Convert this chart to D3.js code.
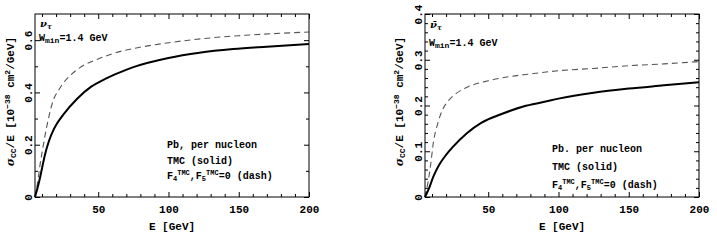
<!DOCTYPE html>
<html>
<head>
<meta charset="utf-8">
<script src="https://cdn.jsdelivr.net/npm/d3@7"></script>
<style>
  body { margin: 0; background: #fff; }
  svg { display: block; }
  text { font-family: "Liberation Mono", "DejaVu Sans Mono", monospace; fill: #000; font-weight: bold; }
</style>
</head>
<body>
<svg id="chart" width="717" height="240"></svg>
<script>
// ---------------- data ----------------
const xTicks = [50, 100, 150, 200];
const xMinor = [10, 20, 30, 40, 60, 70, 80, 90, 110, 120, 130, 140, 160, 170, 180, 190];

// nu_tau panel
const nuYTicks = [0, 0.2, 0.4, 0.6];
const nuYTickLabels = ["0", "0.2", "0.4", "0.6"];
const nuYMinor = [0.1, 0.3, 0.5];
const nuSolidE     = [5, 8, 10, 12, 15, 18, 20, 25, 35, 45, 55, 65, 75, 100, 122, 146, 170, 200];
const nuSolidSigma = [0, 0.06, 0.11, 0.16, 0.215, 0.255, 0.275, 0.314, 0.376, 0.422, 0.452, 0.476, 0.497, 0.532, 0.552, 0.566, 0.575, 0.585];
const nuDashE      = [5, 7, 8.5, 11, 13, 15, 18, 22, 25, 30, 37, 50, 68, 75, 100, 125, 150, 175, 200];
const nuDashSigma  = [0, 0.06, 0.12, 0.2, 0.26, 0.31, 0.37, 0.41, 0.435, 0.465, 0.495, 0.528, 0.56, 0.568, 0.59, 0.606, 0.617, 0.625, 0.631];

// anti-nu_tau panel
const nubarYTicks = [0, 0.1, 0.2, 0.3, 0.4];
const nubarYTickLabels = ["0", "0.1", "0.2", "0.3", "0.4"];
const nubarYMinor = [0.02, 0.04, 0.06, 0.08, 0.12, 0.14, 0.16, 0.18, 0.22, 0.24, 0.26, 0.28, 0.32, 0.34, 0.36, 0.38];
const nubarSolidE     = [5, 8, 11, 15, 20, 25, 35, 45, 60, 75, 90, 100, 125, 150, 175, 200];
const nubarSolidSigma = [0, 0.02, 0.045, 0.07, 0.092, 0.11, 0.14, 0.162, 0.182, 0.198, 0.208, 0.215, 0.228, 0.237, 0.244, 0.251];
const nubarDashE      = [5, 7, 9, 11, 14, 18, 21, 25, 30, 35, 50, 65, 80, 100, 125, 150, 175, 200];
const nubarDashSigma  = [0, 0.03, 0.07, 0.12, 0.16, 0.194, 0.208, 0.221, 0.232, 0.24, 0.254, 0.263, 0.269, 0.276, 0.281, 0.287, 0.291, 0.296];

const xDomain = [5, 200];

// ---------------- drawing ----------------
const svg = d3.select("#chart");

function panel(cfg) {
  const g = svg.append("g");
  const x = d3.scaleLinear().domain(xDomain).range([cfg.left, cfg.right]);
  const y = d3.scaleLinear().domain(cfg.yDomain).range([cfg.bottom, cfg.top]);

  // curves
  const line = d3.line().x(d => x(d[0])).y(d => y(d[1])).curve(d3.curveMonotoneX);
  g.append("path")
    .datum(d3.zip(cfg.dashE, cfg.dashS))
    .attr("d", line)
    .attr("fill", "none").attr("stroke", "#555").attr("stroke-width", 1.1)
    .attr("stroke-dasharray", "6,4");
  g.append("path")
    .datum(d3.zip(cfg.solidE, cfg.solidS))
    .attr("d", line)
    .attr("fill", "none").attr("stroke", "#000").attr("stroke-width", 2);

  // axes with inward ticks on all sides
  const tickStyle = sel => {
    sel.select(".domain").remove();
    sel.selectAll("line").attr("stroke", "#000").attr("stroke-width", 1);
  };
  // bottom
  const bx = g.append("g").attr("transform", `translate(0,${cfg.bottom})`)
    .call(d3.axisBottom(x).tickValues(xTicks).tickSize(-5).tickPadding(9).tickFormat(d3.format("d")))
    .call(tickStyle);
  bx.selectAll("text").style("font-size", "11px").attr("dy", "0.71em").attr("y", 8);
  g.append("g").attr("transform", `translate(0,${cfg.bottom})`)
    .call(d3.axisBottom(x).tickValues(xMinor).tickSize(-3).tickFormat(""))
    .call(tickStyle);
  // top
  g.append("g").attr("transform", `translate(0,${cfg.top})`)
    .call(d3.axisTop(x).tickValues(xTicks).tickSize(-5).tickFormat(""))
    .call(tickStyle);
  g.append("g").attr("transform", `translate(0,${cfg.top})`)
    .call(d3.axisTop(x).tickValues(xMinor).tickSize(-3).tickFormat(""))
    .call(tickStyle);
  // left
  const ly = g.append("g").attr("transform", `translate(${cfg.left},0)`)
    .call(d3.axisLeft(y).tickValues(cfg.yTicks).tickSize(-5)
      .tickFormat((d, i) => cfg.yLabels[i]))
    .call(tickStyle);
  ly.selectAll("text")
    .style("font-size", "11px")
    .attr("x", null).attr("dy", null)
    .attr("text-anchor", "middle")
    .attr("transform", "translate(-3.5,0) rotate(-90)");
  g.append("g").attr("transform", `translate(${cfg.left},0)`)
    .call(d3.axisLeft(y).tickValues(cfg.yMinor).tickSize(-3).tickFormat(""))
    .call(tickStyle);
  // right
  g.append("g").attr("transform", `translate(${cfg.right},0)`)
    .call(d3.axisRight(y).tickValues(cfg.yTicks).tickSize(-5).tickFormat(""))
    .call(tickStyle);
  g.append("g").attr("transform", `translate(${cfg.right},0)`)
    .call(d3.axisRight(y).tickValues(cfg.yMinor).tickSize(-3).tickFormat(""))
    .call(tickStyle);

  // frame
  g.append("rect")
    .attr("x", cfg.left).attr("y", cfg.top)
    .attr("width", cfg.right - cfg.left).attr("height", cfg.bottom - cfg.top)
    .attr("fill", "none").attr("stroke", "#000").attr("stroke-width", 1);

  // x title
  g.append("text")
    .attr("x", (cfg.left + cfg.right) / 2).attr("y", 230)
    .attr("text-anchor", "middle").style("font-size", "11px")
    .text("E [GeV]");

  // y title
  const yt = g.append("text")
    .attr("transform", `translate(${cfg.yTitleX},${(cfg.top + cfg.bottom) / 2 - 4}) rotate(-90)`)
    .attr("text-anchor", "middle").style("font-size", "11px");
  yt.append("tspan").style("font-family", "'DejaVu Serif', serif").style("font-style", "italic").text("σ");
  yt.append("tspan").attr("baseline-shift", "-25%").style("font-size", "8px").text("CC");
  yt.append("tspan").text("/E [10");
  yt.append("tspan").attr("baseline-shift", "45%").style("font-size", "8px").text("−38");
  yt.append("tspan").text(" cm");
  yt.append("tspan").attr("baseline-shift", "45%").style("font-size", "8px").text("2");
  yt.append("tspan").text("/GeV]");

  // particle label
  const pl = g.append("text").attr("x", cfg.left + 5).attr("y", cfg.particleY).style("font-size", "10px")
    .style("font-family", "'DejaVu Serif', serif").style("font-style", "italic");
  pl.append("tspan").text(cfg.particle);
  pl.append("tspan").attr("baseline-shift", "-30%").style("font-size", "7px").text("τ");

  // W_min label
  const wl = g.append("text").attr("x", cfg.left + 4).attr("y", cfg.wY).style("font-size", "10px");
  wl.append("tspan").text("W");
  wl.append("tspan").attr("baseline-shift", "-30%").style("font-size", "8px").text("min");
  wl.append("tspan").attr("baseline-shift", "0%").text("=1.4 GeV");

  // notes
  const nx = cfg.noteX;
  g.append("text").attr("x", nx).attr("y", cfg.noteY[0]).style("font-size", "10px").text(cfg.noteLine1);
  g.append("text").attr("x", nx).attr("y", cfg.noteY[1]).style("font-size", "10px").text("TMC (solid)");
  const f = g.append("text").attr("x", nx).attr("y", cfg.noteY[2]).style("font-size", "10px");
  f.append("tspan").text("F");
  f.append("tspan").attr("baseline-shift", "-30%").style("font-size", "7px").text("4");
  f.append("tspan").attr("baseline-shift", "55%").style("font-size", "7px").text("TMC");
  f.append("tspan").text(",F");
  f.append("tspan").attr("baseline-shift", "-30%").style("font-size", "7px").text("5");
  f.append("tspan").attr("baseline-shift", "55%").style("font-size", "7px").text("TMC");
  f.append("tspan").text("=0 (dash)");
}

panel({
  left: 35, right: 309, top: 14, bottom: 197,
  yDomain: [0, 0.7], yTicks: nuYTicks, yLabels: nuYTickLabels, yMinor: nuYMinor,
  solidE: nuSolidE, solidS: nuSolidSigma, dashE: nuDashE, dashS: nuDashSigma,
  yTitleX: 14, particle: "ν", particleY: 27, wY: 41,
  noteX: 167, noteY: [148, 164, 179], noteLine1: "Pb, per nucleon"
});

panel({
  left: 425, right: 699, top: 14, bottom: 197,
  yDomain: [0, 0.4], yTicks: nubarYTicks, yLabels: nubarYTickLabels, yMinor: nubarYMinor,
  solidE: nubarSolidE, solidS: nubarSolidSigma, dashE: nubarDashE, dashS: nubarDashSigma,
  yTitleX: 403, particle: "ν̄", particleY: 28, wY: 46,
  noteX: 552, noteY: [152, 170, 188], noteLine1: "Pb. per nucleon"
});
</script>
</body>
</html>
